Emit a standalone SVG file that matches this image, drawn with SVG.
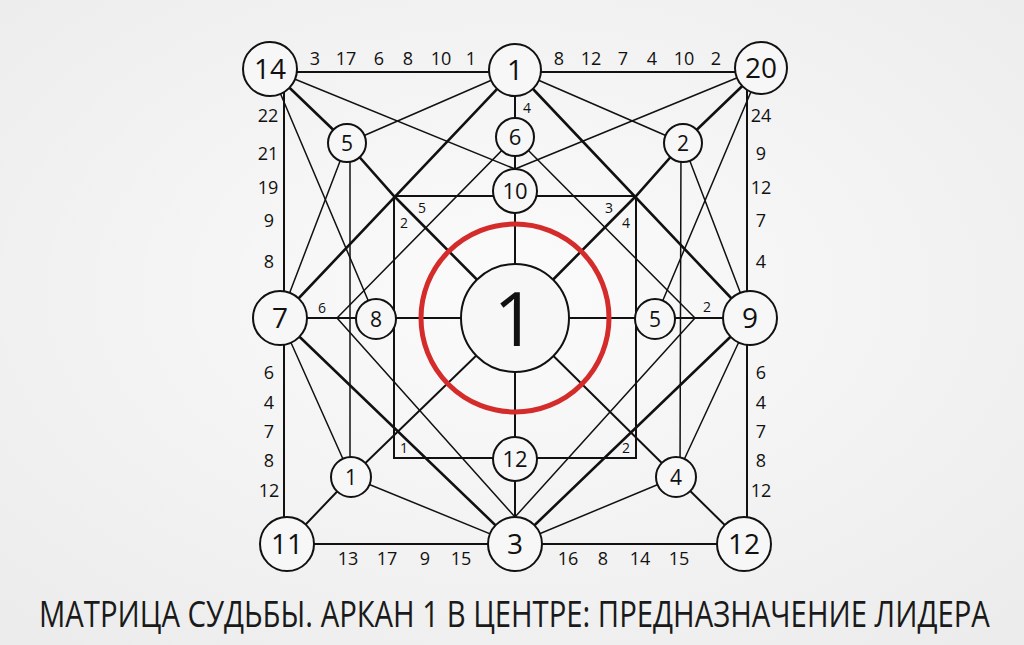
<svg xmlns="http://www.w3.org/2000/svg" width="1024" height="645" viewBox="0 0 1024 645">
<defs>
<radialGradient id="bg" cx="50%" cy="45%" r="70%">
<stop offset="0" stop-color="#fbfbfb"/>
<stop offset="1" stop-color="#ececec"/>
</radialGradient>
<style>
.n circle{fill:#f7f7f7;stroke:#111;stroke-width:2}
.n text{font-family:"Open Sans","Noto Sans",sans-serif;fill:#111;text-anchor:middle}
.big text{font-size:28px}
.mid text{font-size:22px}
.sm text{font-size:21px}
.lbl{font-family:"Open Sans","Noto Sans",sans-serif;font-size:18px;fill:#111;text-anchor:middle}
.lbs{font-family:"Open Sans","Noto Sans",sans-serif;font-size:14px;fill:#111;text-anchor:middle}
.th{stroke-width:2.6}
.md{stroke-width:2}
.tn{stroke-width:1.5}
</style>
</defs>
<rect width="1024" height="645" fill="url(#bg)"/>
<g id="connectors" fill="none" stroke="#111" stroke-linecap="round">
<g class="md">
<line x1="270" y1="72" x2="761" y2="72"/>
<line x1="284" y1="69" x2="284" y2="544"/>
<line x1="747" y1="68" x2="747" y2="544"/>
<line x1="287" y1="544" x2="744" y2="544"/>
<line x1="287" y1="544" x2="351" y2="477"/>
<line x1="351" y1="477" x2="515" y2="318"/>
<line x1="744" y1="544" x2="676" y2="477"/>
<line x1="676" y1="477" x2="515" y2="318"/>
<line x1="515" y1="70" x2="515" y2="544"/>
<line x1="280" y1="318" x2="750" y2="318"/>
<rect x="394" y="196" width="242" height="262"/>
</g>
<g class="th">
<line x1="515" y1="70" x2="280" y2="318"/>
<line x1="515" y1="70" x2="750" y2="318"/>
<line x1="515" y1="544" x2="280" y2="318"/>
<line x1="515" y1="544" x2="750" y2="318"/>
<line x1="270" y1="69" x2="347" y2="143"/>
<polyline points="347,143 394,196 515,318"/>
<line x1="761" y1="68" x2="683" y2="143"/>
<polyline points="683,143 636,196 515,318"/>
</g>
<g class="tn">
<line x1="270" y1="69" x2="515" y2="169"/>
<line x1="761" y1="68" x2="515" y2="169"/>
<line x1="515" y1="70" x2="347" y2="143"/>
<line x1="515" y1="70" x2="683" y2="143"/>
<line x1="270" y1="69" x2="376" y2="319"/>
<line x1="761" y1="68" x2="655" y2="319"/>
<line x1="347" y1="143" x2="280" y2="318"/>
<line x1="683" y1="143" x2="750" y2="318"/>
<line x1="350" y1="143" x2="350" y2="477"/>
<line x1="681" y1="143" x2="680" y2="477"/>
<line x1="515" y1="137" x2="337" y2="318"/>
<line x1="515" y1="137" x2="695" y2="318"/>
<line x1="337" y1="318" x2="515" y2="517"/>
<line x1="695" y1="318" x2="515" y2="517"/>
<line x1="280" y1="318" x2="351" y2="477"/>
<line x1="351" y1="477" x2="515" y2="544"/>
<line x1="750" y1="318" x2="676" y2="477"/>
<line x1="676" y1="477" x2="515" y2="544"/>
</g>
</g>
<g id="red-ring"><circle cx="515" cy="318" r="94" fill="none" stroke="#d42b2b" stroke-width="5"/></g>
<g id="nodes">
<g id="n14" class="n big"><circle cx="270" cy="69" r="27"/><text x="270" y="79">14</text></g>
<g id="n1top" class="n big"><circle cx="515" cy="70" r="26"/><text x="515" y="80">1</text></g>
<g id="n20" class="n big"><circle cx="761" cy="68" r="26"/><text x="761" y="78">20</text></g>
<g id="n7" class="n big"><circle cx="280" cy="318" r="27"/><text x="280" y="328">7</text></g>
<g id="n9" class="n big"><circle cx="750" cy="318" r="27"/><text x="750" y="328">9</text></g>
<g id="n11" class="n big"><circle cx="287" cy="544" r="27"/><text x="287" y="554">11</text></g>
<g id="n3" class="n big"><circle cx="515" cy="544" r="27"/><text x="515" y="554">3</text></g>
<g id="n12" class="n big"><circle cx="744" cy="544" r="27"/><text x="744" y="554">12</text></g>
<g id="n6" class="n mid"><circle cx="515" cy="137" r="19"/><text x="515" y="145">6</text></g>
<g id="n10" class="n mid"><circle cx="515" cy="191" r="22"/><text x="515" y="199">10</text></g>
<g id="n12s" class="n mid"><circle cx="515" cy="459" r="22"/><text x="515" y="467">12</text></g>
<g id="n5" class="n sm"><circle cx="347" cy="143" r="19"/><text x="347" y="150.5">5</text></g>
<g id="n2" class="n sm"><circle cx="683" cy="143" r="19"/><text x="683" y="150.5">2</text></g>
<g id="n8" class="n sm"><circle cx="376" cy="319" r="20"/><text x="376" y="326.5">8</text></g>
<g id="n5r" class="n sm"><circle cx="655" cy="319" r="20"/><text x="655" y="326.5">5</text></g>
<g id="n1ll" class="n sm"><circle cx="351" cy="477" r="20"/><text x="351" y="484.5">1</text></g>
<g id="n4" class="n sm"><circle cx="676" cy="477" r="20"/><text x="676" y="484.5">4</text></g>
<g id="ncenter" class="n"><circle cx="515" cy="318" r="54"/><text x="515" y="346" style="font-size:75px">1</text></g>
</g>
<g id="labels">
<text class="lbl" x="315" y="65">3</text><text class="lbl" x="346" y="65">17</text><text class="lbl" x="379" y="65">6</text><text class="lbl" x="408" y="65">8</text><text class="lbl" x="441" y="65">10</text><text class="lbl" x="471" y="65">1</text>
<text class="lbl" x="559" y="65">8</text><text class="lbl" x="591" y="65">12</text><text class="lbl" x="623" y="65">7</text><text class="lbl" x="652" y="65">4</text><text class="lbl" x="684" y="65">10</text><text class="lbl" x="716" y="65">2</text>
<text class="lbl" x="268" y="122">22</text><text class="lbl" x="268" y="160">21</text><text class="lbl" x="268" y="194">19</text><text class="lbl" x="269" y="227">9</text><text class="lbl" x="269" y="268">8</text>
<text class="lbl" x="269" y="379">6</text><text class="lbl" x="269" y="409">4</text><text class="lbl" x="269" y="438">7</text><text class="lbl" x="269" y="467">8</text><text class="lbl" x="269" y="497">12</text>
<text class="lbl" x="761" y="122">24</text><text class="lbl" x="761" y="160">9</text><text class="lbl" x="761" y="194">12</text><text class="lbl" x="761" y="227">7</text><text class="lbl" x="761" y="268">4</text>
<text class="lbl" x="761" y="379">6</text><text class="lbl" x="761" y="409">4</text><text class="lbl" x="761" y="438">7</text><text class="lbl" x="761" y="467">8</text><text class="lbl" x="761" y="497">12</text>
<text class="lbl" x="348" y="565">13</text><text class="lbl" x="387" y="565">17</text><text class="lbl" x="425" y="565">9</text><text class="lbl" x="461" y="565">15</text>
<text class="lbl" x="568" y="565">16</text><text class="lbl" x="603" y="565">8</text><text class="lbl" x="640" y="565">14</text><text class="lbl" x="679" y="565">15</text>
<text class="lbs" x="527" y="113">4</text>
<text class="lbs" x="422" y="213">5</text><text class="lbs" x="404" y="228">2</text>
<text class="lbs" x="609" y="212.5">3</text><text class="lbs" x="626" y="228">4</text>
<text class="lbs" x="322" y="313">6</text><text class="lbs" x="707" y="312">2</text>
<text class="lbs" x="404" y="453">1</text><text class="lbs" x="626" y="453">2</text>
</g>
<text id="title" transform="translate(39,627) scale(0.78,1)" x="0" y="0" textLength="1219" lengthAdjust="spacingAndGlyphs" style="font-family:'Open Sans','Noto Sans',sans-serif;font-size:36px;fill:#1a1a1a">МАТРИЦА СУДЬБЫ. АРКАН 1 В ЦЕНТРЕ: ПРЕДНАЗНАЧЕНИЕ ЛИДЕРА</text>
</svg>
